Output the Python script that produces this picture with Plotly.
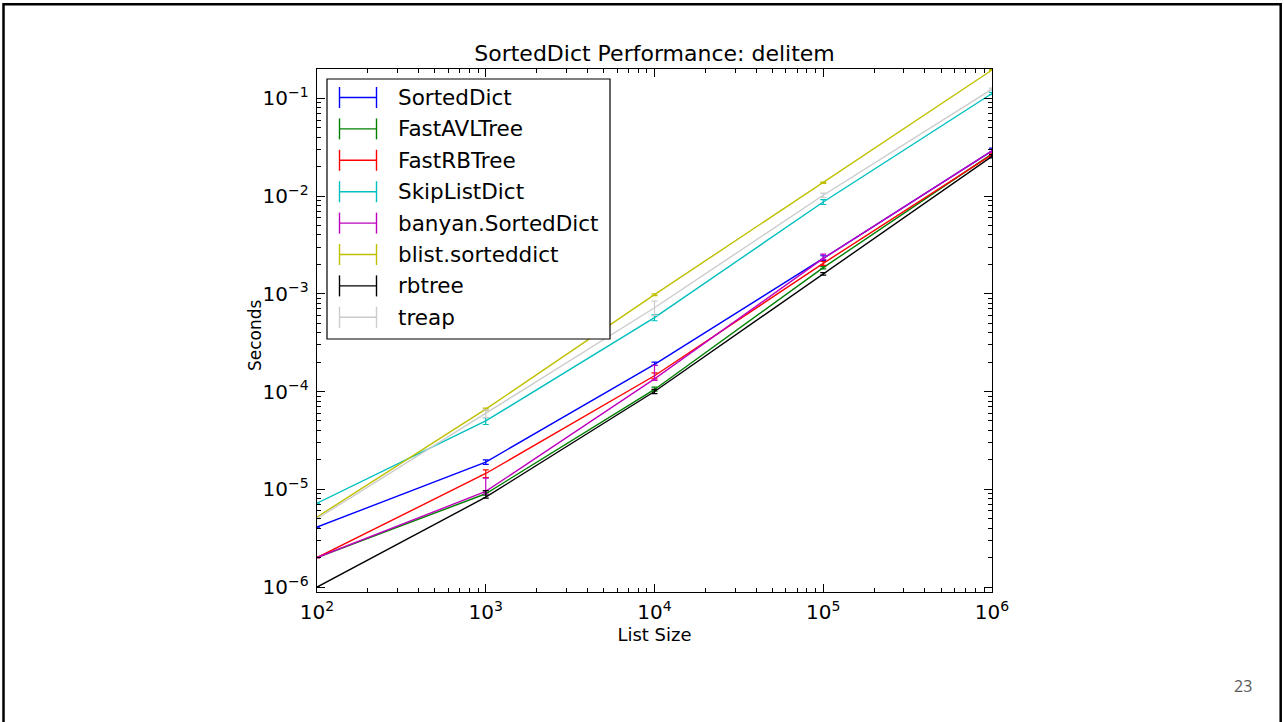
import plotly.graph_objects as go

# ---------------- data ----------------
sizes = [1e2, 1e3, 1e4, 1e5, 1e6]

names = ["SortedDict", "FastAVLTree", "FastRBTree", "SkipListDict",
         "banyan.SortedDict", "blist.sorteddict", "rbtree", "treap"]
colors = ["#0000ff", "#008000", "#ff0000", "#00bfbf",
          "#bf00bf", "#bfbf00", "#000000", "#cccccc"]

sorteddict_mean = [4.1e-6, 1.9e-5, 1.9e-4, 2.3e-3, 0.029]
sorteddict_plus = [0.0, 0.1e-5, 0.1e-4, 0.15e-3, 0.002]
sorteddict_minus = [0.0, 0.1e-5, 0.05e-4, 0.1e-3, 0.001]

fastavl_mean = [2.0e-6, 9.0e-6, 1.05e-4, 1.85e-3, 0.027]
fastavl_plus = [0.0, 0.3e-6, 0.06e-4, 0.05e-3, 0.001]
fastavl_minus = [0.0, 0.3e-6, 0.04e-4, 0.05e-3, 0.001]

fastrb_mean = [2.0e-6, 1.45e-5, 1.45e-4, 2.05e-3, 0.0265]
fastrb_plus = [0.0, 0.13e-5, 0.1e-4, 0.1e-3, 0.001]
fastrb_minus = [0.0, 0.13e-5, 0.1e-4, 0.1e-3, 0.001]

skiplist_mean = [7.2e-6, 5.0e-5, 5.7e-4, 8.7e-3, 0.112]
skiplist_plus = [0.0, 0.4e-5, 0.4e-4, 0.5e-3, 0.003]
skiplist_minus = [0.0, 0.4e-5, 0.4e-4, 0.5e-3, 0.003]

banyan_mean = [2.0e-6, 9.5e-6, 1.35e-4, 2.3e-3, 0.029]
banyan_plus = [0.0, 3.5e-6, 0.5e-4, 0.25e-3, 0.001]
banyan_minus = [0.0, 0.6e-6, 0.05e-4, 0.05e-3, 0.001]

blist_mean = [5.2e-6, 6.6e-5, 9.8e-4, 0.0137, 0.195]
blist_plus = [0.0, 0.15e-5, 0.2e-4, 0.2e-3, 0.002]
blist_minus = [0.0, 0.15e-5, 0.2e-4, 0.2e-3, 0.002]

rbtree_mean = [1.0e-6, 8.3e-6, 1.0e-4, 1.6e-3, 0.0255]
rbtree_plus = [0.0, 1.4e-6, 0.05e-4, 0.05e-3, 0.001]
rbtree_minus = [0.0, 0.2e-6, 0.05e-4, 0.05e-3, 0.001]

treap_mean = [5.0e-6, 6.0e-5, 7.2e-4, 0.0102, 0.124]
treap_plus = [0.0, 0.5e-5, 1.2e-4, 0.5e-3, 0.003]
treap_minus = [0.0, 0.6e-5, 1.2e-4, 0.5e-3, 0.003]

means = [sorteddict_mean, fastavl_mean, fastrb_mean, skiplist_mean,
         banyan_mean, blist_mean, rbtree_mean, treap_mean]
pluses = [sorteddict_plus, fastavl_plus, fastrb_plus, skiplist_plus,
          banyan_plus, blist_plus, rbtree_plus, treap_plus]
minuses = [sorteddict_minus, fastavl_minus, fastrb_minus, skiplist_minus,
           banyan_minus, blist_minus, rbtree_minus, treap_minus]

title_text = "SortedDict Performance: delitem"
x_title = "List Size"
y_title = "Seconds"
page_number = "23"

# ---------------- layout geometry ----------------
W, H = 1284, 722
ML, MR, MT, MB = 317, 292, 69, 130
PW = W - ML - MR
PH = H - MT - MB


def px(x):
    return (x - ML) / PW


def py(y):
    return 1 - (y - MT) / PH


FONT = "DejaVu Sans"

fig = go.Figure()

for name, col, m, p, mi in zip(names, colors, means, pluses, minuses):
    fig.add_trace(go.Scatter(
        x=sizes, y=m, name=name, mode="lines",
        line=dict(color=col, width=1.4),
        error_y=dict(type="data", symmetric=False, array=p, arrayminus=mi,
                     color=col, thickness=1.2, width=3),
        showlegend=False,
    ))

axis_common = dict(
    type="log", showline=True, linecolor="black", linewidth=1.2,
    mirror="allticks", ticks="inside", ticklen=8, tickwidth=1,
    tickcolor="black", showgrid=False, zeroline=False,
    dtick=1, exponentformat="power", showexponent="all",
    tickfont=dict(family=FONT, size=16, color="black"),
    minor=dict(ticks="inside", ticklen=4, tickwidth=1, tickcolor="black",
               dtick="D1", showgrid=False),
)

fig.update_layout(
    width=W, height=H,
    margin=dict(l=ML, r=MR, t=MT, b=MB, autoexpand=False),
    paper_bgcolor="white", plot_bgcolor="white",
    font=dict(family=FONT, color="black"),
    title=dict(text=title_text, x=px(654.5), xref="paper", xanchor="center",
               y=1 - 53 / H, yref="container", yanchor="middle",
               font=dict(family=FONT, size=22, color="black")),
    xaxis=dict(axis_common, range=[2, 6],
               title=dict(text=x_title, font=dict(family=FONT, size=18, color="black"), standoff=4),
               ticklabelstandoff=3),
    yaxis=dict(axis_common, range=[-6.051, -0.70], ticklabelstandoff=4),
)

shapes = []
annotations = []

# y axis title, placed like the reference
annotations.append(dict(text=y_title, xref="paper", yref="paper",
                        x=px(255), y=py(335), xanchor="center", yanchor="middle",
                        textangle=-90, showarrow=False,
                        font=dict(family=FONT, size=17, color="black")))

# legend box (manual, matplotlib-style errorbar handles)
shapes.append(dict(type="rect", xref="paper", yref="paper",
                   x0=px(327), x1=px(610), y0=py(339), y1=py(79),
                   line=dict(color="black", width=1.2), fillcolor="white",
                   layer="above"))
row0, step = 97.5, 31.4
for i, (name, col) in enumerate(zip(names, colors)):
    yc = row0 + i * step
    shapes.append(dict(type="line", xref="paper", yref="paper",
                       x0=px(339), x1=px(377), y0=py(yc), y1=py(yc),
                       line=dict(color=col, width=1.4), layer="above"))
    for xx in (339.5, 376.5):
        shapes.append(dict(type="line", xref="paper", yref="paper",
                           x0=px(xx), x1=px(xx), y0=py(yc - 10.5), y1=py(yc + 10.5),
                           line=dict(color=col, width=1.4), layer="above"))
    annotations.append(dict(text=name, xref="paper", yref="paper",
                            x=px(396), y=py(yc), xanchor="left", yanchor="middle",
                            showarrow=False,
                            font=dict(family=FONT, size=21.5, color="black")))

# slide border (left, top, right)
shapes.append(dict(type="path", xref="paper", yref="paper",
                   path=f"M {px(3.5)},{py(730)} L {px(3.5)},{py(4.3)} L {px(1280.7)},{py(4.3)} L {px(1280.7)},{py(730)}",
                   line=dict(color="black", width=2.5), layer="above"))

annotations.append(dict(text=page_number, xref="paper", yref="paper",
                        x=px(1243), y=py(686), xanchor="center", yanchor="middle",
                        showarrow=False,
                        font=dict(family="Open Sans", size=16, color="#595959")))

fig.update_layout(shapes=shapes, annotations=annotations)

fig.write_html(
    "out.html",
    config={"displayModeBar": False},
    post_script="document.body.style.margin='0';document.body.style.overflow='hidden';",
)
